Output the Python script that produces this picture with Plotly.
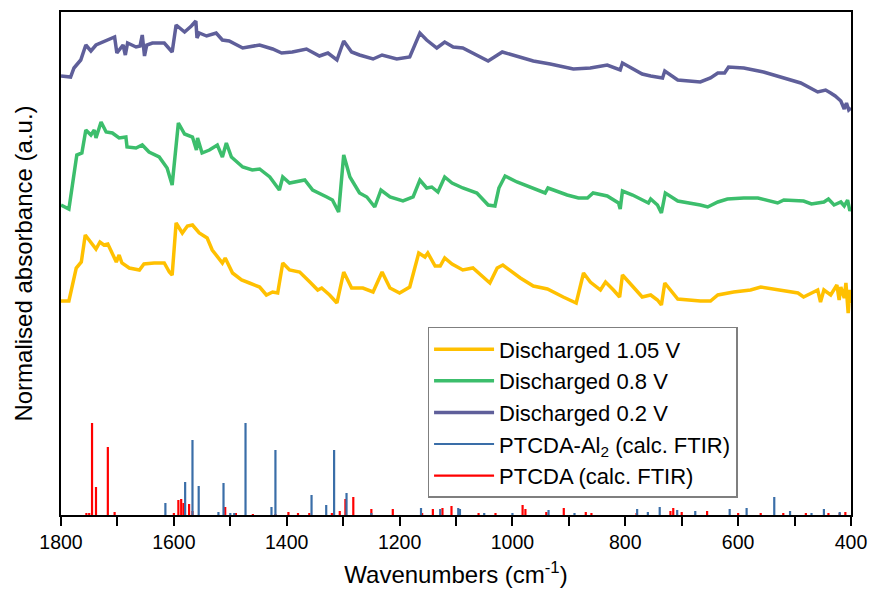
import plotly.graph_objects as go

# ---------------- data ----------------
# Discharged 0.2 V (purple)
wn_02 = [1800, 1783, 1777, 1765, 1756, 1747, 1738, 1721, 1705, 1701, 1690, 1686, 1682, 1667,
         1660, 1656, 1652, 1648, 1638, 1617, 1603, 1596, 1581, 1569, 1561, 1559, 1555, 1542,
         1525, 1514, 1502, 1478, 1448, 1425, 1409, 1390, 1365, 1342, 1327, 1311, 1299, 1285,
         1271, 1247, 1231, 1205, 1182, 1164, 1152, 1134, 1120, 1105, 1088, 1043, 1018, 963,
         933, 892, 862, 832, 809, 805, 770, 755, 734, 730, 707, 667, 649, 636, 624, 617, 590,
         555, 524, 489, 459, 445, 436, 428, 418, 412, 408, 404, 400]
ab_02 = [4.39, 4.38, 4.47, 4.55, 4.70, 4.64, 4.70, 4.74, 4.78, 4.62, 4.70, 4.60, 4.72, 4.68,
         4.69, 4.80, 4.59, 4.70, 4.72, 4.72, 4.63, 4.90, 4.83, 4.89, 4.94, 4.77, 4.82, 4.79,
         4.82, 4.75, 4.74, 4.67, 4.70, 4.66, 4.62, 4.63, 4.66, 4.59, 4.62, 4.55, 4.74, 4.63,
         4.60, 4.56, 4.60, 4.56, 4.58, 4.82, 4.75, 4.67, 4.73, 4.68, 4.67, 4.54, 4.63, 4.54,
         4.51, 4.46, 4.47, 4.50, 4.45, 4.52, 4.41, 4.39, 4.37, 4.44, 4.35, 4.33, 4.37, 4.42,
         4.42, 4.48, 4.47, 4.43, 4.38, 4.32, 4.23, 4.25, 4.22, 4.19, 4.14, 4.06, 4.12, 4.05, 4.07]

# Discharged 0.8 V (green)
wn_08 = [1800, 1786, 1772, 1763, 1756, 1747, 1741, 1738, 1729, 1720, 1709, 1697, 1685, 1683,
         1667, 1656, 1644, 1626, 1612, 1603, 1592, 1581, 1567, 1560, 1558, 1550, 1537, 1523,
         1514, 1507, 1498, 1478, 1461, 1448, 1430, 1413, 1407, 1395, 1368, 1354, 1329, 1319,
         1308, 1299, 1288, 1271, 1258, 1244, 1233, 1217, 1194, 1176, 1164, 1152, 1143, 1132,
         1120, 1107, 1088, 1063, 1043, 1031, 1024, 1013, 992, 963, 942, 937, 903, 883, 867,
         857, 832, 812, 809, 805, 787, 759, 755, 743, 736, 729, 707, 667, 654, 636, 619, 590,
         565, 530, 519, 484, 470, 448, 440, 430, 418, 412, 406, 402, 400]
ab_08 = [3.10, 3.06, 3.60, 3.62, 3.85, 3.80, 3.85, 3.77, 3.93, 3.83, 3.82, 3.77, 3.78, 3.68,
         3.67, 3.70, 3.63, 3.58, 3.47, 3.30, 3.92, 3.81, 3.78, 3.65, 3.77, 3.62, 3.65, 3.70,
         3.58, 3.72, 3.58, 3.48, 3.45, 3.46, 3.38, 3.25, 3.38, 3.32, 3.35, 3.25, 3.18, 3.15,
         3.03, 3.60, 3.38, 3.22, 3.18, 3.08, 3.25, 3.18, 3.14, 3.18, 3.35, 3.27, 3.28, 3.23,
         3.38, 3.32, 3.27, 3.22, 3.10, 3.09, 3.27, 3.39, 3.33, 3.27, 3.22, 3.27, 3.20, 3.17, 3.17,
         3.22, 3.19, 3.12, 3.06, 3.24, 3.20, 3.12, 3.16, 3.10, 3.02, 3.22, 3.14, 3.10, 3.08,
         3.13, 3.16, 3.17, 3.17, 3.12, 3.15, 3.14, 3.11, 3.13, 3.16, 3.10, 3.13, 3.09, 3.15,
         3.04, 3.07]

# Discharged 1.05 V (yellow)
wn_105 = [1800, 1786, 1773, 1764, 1757, 1747, 1738, 1731, 1724, 1717, 1709, 1702, 1697, 1692,
          1679, 1661, 1653, 1635, 1617, 1608, 1603, 1596, 1585, 1576, 1567, 1555, 1541, 1532,
          1514, 1509, 1496, 1480, 1466, 1448, 1436, 1425, 1416, 1407, 1395, 1377, 1359, 1345,
          1338, 1324, 1311, 1299, 1285, 1265, 1247, 1231, 1217, 1200, 1182, 1166, 1155, 1150,
          1137, 1128, 1120, 1107, 1088, 1070, 1040, 1027, 1017, 986, 963, 938, 910, 887, 874,
          862, 844, 835, 821, 810, 805, 787, 770, 755, 743, 736, 730, 707, 667, 649, 636, 608,
          578, 560, 530, 494, 484, 459, 454, 448, 436, 425, 421, 418, 412, 409, 405, 402, 400]
ab_105 = [2.14, 2.14, 2.47, 2.53, 2.80, 2.73, 2.66, 2.73, 2.70, 2.71, 2.62, 2.53, 2.60, 2.52,
          2.47, 2.45, 2.51, 2.52, 2.52, 2.43, 2.40, 2.92, 2.82, 2.89, 2.90, 2.82, 2.77, 2.65,
          2.52, 2.57, 2.42, 2.35, 2.32, 2.28, 2.20, 2.23, 2.22, 2.52, 2.45, 2.43, 2.33, 2.25,
          2.27, 2.20, 2.12, 2.43, 2.27, 2.27, 2.23, 2.43, 2.27, 2.22, 2.28, 2.62, 2.58, 2.62,
          2.49, 2.49, 2.57, 2.51, 2.45, 2.47, 2.32, 2.47, 2.50, 2.37, 2.29, 2.26, 2.18, 2.12, 2.42,
          2.33, 2.25, 2.33, 2.25, 2.18, 2.40, 2.29, 2.18, 2.20, 2.15, 2.10, 2.32, 2.16, 2.14, 2.14,
          2.20, 2.23, 2.25, 2.28, 2.25, 2.22, 2.18, 2.25, 2.13, 2.25, 2.20, 2.30, 2.15, 2.28, 2.17,
          2.32, 2.02, 2.25, 2.12]

# PTCDA-Al2 calculated FTIR (blue sticks)
wn_al2 = [1615, 1580, 1567, 1556, 1521, 1512, 1500, 1493, 1473, 1427, 1420, 1356, 1330, 1316,
          1294, 1250, 1162, 1128, 1096, 1093, 1050, 1000, 936, 890, 779, 760, 739, 708, 676,
          615, 585, 536, 508, 470, 448, 420]
int_al2 = [0.12, 0.33, 0.75, 0.29, 0.03, 0.32, 0.02, 0.02, 0.92, 0.08, 0.65, 0.20, 0.10, 0.65,
           0.22, 0.02, 0.07, 0.06, 0.07, 0.06, 0.02, 0.02, 0.05, 0.02, 0.06, 0.03, 0.08, 0.05, 0.04,
           0.06, 0.07, 0.18, 0.04, 0.02, 0.06, 0.03]

# PTCDA calculated FTIR (red sticks)
wn_ptcda = [1755, 1750, 1745, 1738, 1717, 1705, 1600, 1592, 1587, 1583, 1573, 1567, 1509, 1490,
            1460, 1420, 1397, 1380, 1360, 1320, 1306, 1296, 1282, 1250, 1212, 1160, 1141, 1124,
            1108, 1060, 1030, 982, 977, 940, 909, 870, 860, 780, 720, 715, 700, 655, 600, 560,
            520, 480, 440, 420, 410]
int_ptcda = [0.02, 0.02, 0.92, 0.28, 0.68, 0.03, 0.02, 0.15, 0.16, 0.12, 0.11, 0.04, 0.08, 0.02,
             0.01, 0.01, 0.03, 0.02, 0.02, 0.02, 0.04, 0.16, 0.18, 0.06, 0.06, 0.02, 0.06, 0.07,
             0.09, 0.02, 0.02, 0.10, 0.06, 0.03, 0.07, 0.03, 0.02, 0.02, 0.04, 0.07, 0.03, 0.04, 0.02,
             0.02, 0.02, 0.02, 0.02, 0.02, 0.03]

x_ticks = [1800, 1600, 1400, 1200, 1000, 800, 600, 400]

# ---------------- helpers ----------------
def sticks(wn, inten):
    xs, ys = [], []
    for w, h in zip(wn, inten):
        xs += [w, w, None]
        ys += [0, h, None]
    return xs, ys

FONT = "Arial, 'Liberation Sans', sans-serif"

fig = go.Figure()

xr, yr = sticks(wn_ptcda, int_ptcda)
xb, yb = sticks(wn_al2, int_al2)

fig.add_trace(go.Scatter(x=xr, y=yr, mode="lines", name="PTCDA (calc. FTIR)",
                         line=dict(color="#FF0000", width=2.2), legendrank=5))
fig.add_trace(go.Scatter(x=xb, y=yb, mode="lines", name="PTCDA-Al<sub>2</sub> (calc. FTIR)",
                         line=dict(color="#3A6EA8", width=2.2), legendrank=4))
fig.add_trace(go.Scatter(x=wn_02, y=ab_02, mode="lines", name="Discharged 0.2 V",
                         line=dict(color="#5F5F9A", width=3.5), legendrank=3))
fig.add_trace(go.Scatter(x=wn_08, y=ab_08, mode="lines", name="Discharged 0.8 V",
                         line=dict(color="#3CBE6C", width=3.5), legendrank=2))
fig.add_trace(go.Scatter(x=wn_105, y=ab_105, mode="lines", name="Discharged 1.05 V",
                         line=dict(color="#FFC000", width=3.5), legendrank=1))

fig.update_layout(
    width=870, height=596,
    margin=dict(l=61, r=19, t=12, b=81, autoexpand=False),
    paper_bgcolor="white", plot_bgcolor="white",
    font=dict(family=FONT, color="black"),
    showlegend=True,
    legend=dict(x=0.464, y=0.374, xanchor="left", yanchor="top",
                bgcolor="white", bordercolor="#7F7F7F", borderwidth=1.5,
                font=dict(size=22, family=FONT), itemwidth=60,
                tracegroupgap=0),
    xaxis=dict(range=[1800, 400], tickvals=x_ticks, ticks="outside", ticklen=9, tickwidth=1.5,
               tickcolor="black", showline=True, linewidth=2, linecolor="black", mirror=True,
               showgrid=False, zeroline=False, tickfont=dict(size=19.5, family=FONT),
               automargin=False,
               minor=dict(dtick=100, ticks="outside", ticklen=9, tickwidth=1.5, tickcolor="black",
                          showgrid=False),
               title=dict(text="Wavenumbers (cm<sup>-1</sup>)", font=dict(size=24, family=FONT),
                          standoff=14)),
    yaxis=dict(range=[0, 5.03], showticklabels=False, ticks="", showline=True, linewidth=2,
               linecolor="black", mirror=True, showgrid=False, zeroline=False, automargin=False,
               title=dict(text="Normalised absorbance (a.u.)", font=dict(size=24, family=FONT),
                          standoff=20)),
)

fig.write_html("out.html")
